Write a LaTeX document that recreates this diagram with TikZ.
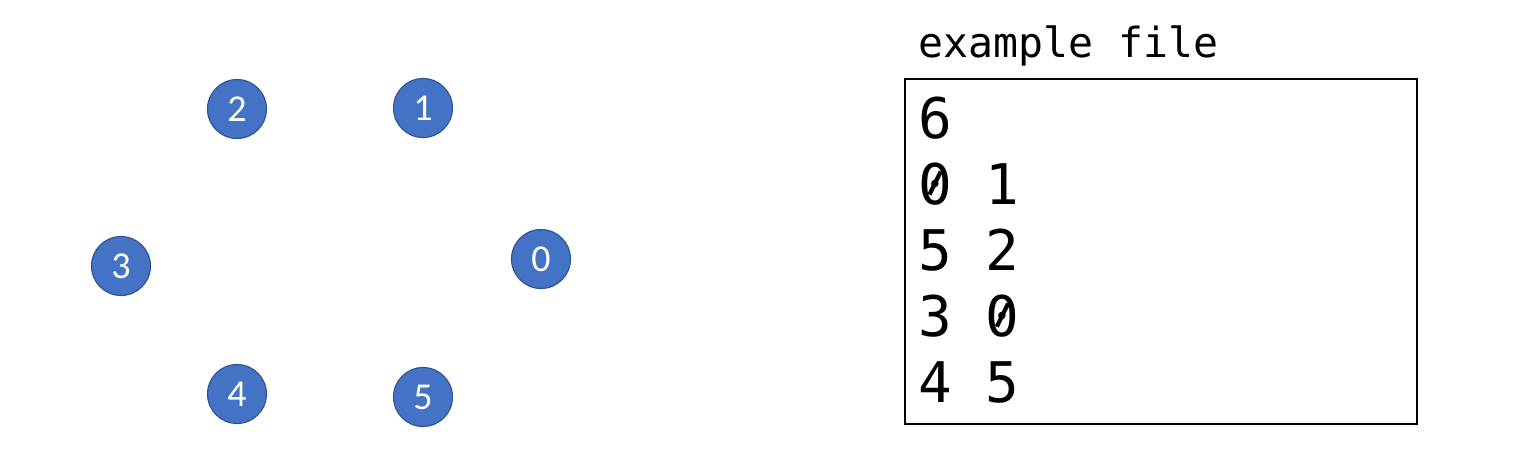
\documentclass[tikz,border=0pt]{standalone}
\usepackage{fontspec}
\setmainfont{Carlito}
\newfontfamily\monof{DejaVu Sans Mono}
\newcommand\slzero{\makebox[0pt][l]{0}\makebox[0.602em][c]{\raisebox{0.15em}{\rotatebox{64}{\rule{0.46em}{0.075em}}}}}
\definecolor{nodefill}{HTML}{4472C4}
\definecolor{nodeline}{HTML}{2F528F}
\begin{document}
\begin{tikzpicture}[x=1pt,y=-1pt,
  vert/.style={circle,fill=nodefill,draw=nodeline,line width=1.1pt,minimum size=59pt,inner sep=0pt,text=white,font=\fontsize{38}{38}\selectfont},
  fileline/.style={anchor=base west,inner sep=0pt,font=\monof\fontsize{56}{56}\selectfont},
  filebox/.style={draw=black,line width=1.6pt}]
\useasboundingbox (0,0) rectangle (1516,456);
\node[vert] (v2) at (237,109) {2};
\node[vert] (v1) at (423,108) {1};
\node[vert] (v3) at (121,266) {3};
\node[vert] (v0) at (541,259) {0};
\node[vert] (v4) at (237,394) {4};
\node[vert] (v5) at (423,397) {5};
\node[anchor=base west,inner sep=0pt,font=\monof\fontsize{41.5}{41.5}\selectfont] (title) at (918,57) {example file};
\draw[filebox] (905,79) rectangle (1417,424);
\node[fileline] (l1) at (918,138) {6};
\node[fileline] (l2) at (918,204) {\slzero{} 1};
\node[fileline] (l3) at (918,270) {5 2};
\node[fileline] (l4) at (918,336) {3 \slzero};
\node[fileline] (l5) at (918,402) {4 5};
\end{tikzpicture}
\end{document}
